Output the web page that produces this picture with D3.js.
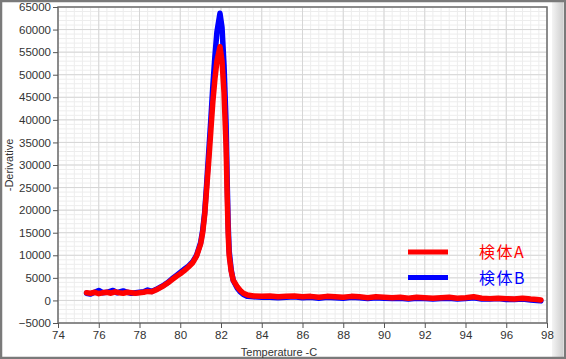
<!DOCTYPE html>
<html><head><meta charset="utf-8">
<script src="https://cdn.jsdelivr.net/npm/d3@7"></script>
<style>
html,body{margin:0;padding:0;background:#fff;}
svg{display:block;}
</style></head>
<body>
<svg id="chart" width="566" height="359"></svg>
<script>
// ---- data ----
const tempsA = [75.4,75.6,75.8,76.0,76.2,76.4,76.6,76.8,77.0,77.2,77.4,77.6,77.8,78.0,78.2,78.4,78.6,78.8,79.0,79.2,79.4,79.6,79.8,80.0,80.2,80.4,80.6,80.8,81.0,81.1,81.2,81.3,81.4,81.5,81.6,81.7,81.8,81.95,82.05,82.15,82.25,82.3,82.35,82.4,82.5,82.6,82.8,82.95,83.1,83.3,83.6,84.0,84.4,84.8,85.2,85.6,86.0,86.4,86.8,87.2,87.6,88.0,88.4,88.8,89.2,89.6,90.0,90.4,90.8,91.2,91.6,92.0,92.4,92.8,93.2,93.6,94.0,94.4,94.8,95.2,95.6,96.0,96.4,96.8,97.2,97.5,97.7];
const valuesA = [1700,1600,1800,1500,1700,1800,1600,1900,1700,1600,1800,1700,1600,1700,1800,2000,1900,2300,2800,3300,3900,4600,5300,5900,6600,7400,8300,9800,12500,15000,19000,25000,31000,37500,44000,49000,53000,56200,53000,46000,34000,24000,15000,10000,6500,4500,3000,2200,1600,1200,1000,900,1000,800,900,1000,800,900,700,900,800,700,900,800,600,800,700,600,700,500,700,600,500,600,700,500,600,800,500,400,500,400,300,500,300,200,100];
const tempsB = [75.4,75.6,75.8,76.0,76.2,76.4,76.7,76.9,77.2,77.4,77.6,77.8,78.0,78.2,78.4,78.6,78.8,79.0,79.2,79.4,79.6,79.8,80.0,80.2,80.4,80.6,80.8,81.0,81.1,81.2,81.3,81.4,81.5,81.6,81.7,81.8,81.95,82.05,82.15,82.25,82.3,82.35,82.4,82.5,82.6,82.8,82.95,83.1,83.3,83.6,84.0,84.4,84.8,85.2,85.6,86.0,86.4,86.8,87.2,87.6,88.0,88.4,88.8,89.2,89.6,90.0,90.4,90.8,91.2,91.6,92.0,92.4,92.8,93.2,93.6,94.0,94.4,94.8,95.2,95.6,96.0,96.4,96.8,97.2,97.5,97.7];
const valuesB = [1600,1400,1800,2200,1700,1800,2200,1700,2100,1800,1600,1700,1800,1900,2300,2000,2400,2900,3400,4000,4800,5500,6200,6900,7600,8500,10000,12800,15500,19500,26000,33000,40000,47500,54000,59500,63600,60500,52000,39000,27000,17000,11000,6800,4400,2700,1900,1300,900,800,700,700,600,700,800,600,700,500,700,600,500,700,600,400,600,500,400,500,300,500,400,300,400,500,300,400,600,300,300,400,200,200,300,100,0,-100];
const xTicks = [74,76,78,80,82,84,86,88,90,92,94,96,98];
const yTicks = [-5000,0,5000,10000,15000,20000,25000,30000,35000,40000,45000,50000,55000,60000,65000];
const seriesNames = ["検体A","検体B"];
const seriesColors = ["#ff0000","#0000ff"];

// ---- layout ----
const W = 566, H = 359;
const L = 58, T = 7, R = 547, B = 323;
const svg = d3.select("#chart");

// outer frame
svg.append("rect").attr("x",0).attr("y",0).attr("width",W).attr("height",H).attr("fill","#fff");
const grad = svg.append("defs").append("linearGradient").attr("id","rg").attr("x1","0").attr("x2","1");
grad.append("stop").attr("offset","0").attr("stop-color","#f4f4f4");
grad.append("stop").attr("offset","1").attr("stop-color","#cfcfcf");
svg.append("rect").attr("x",552).attr("y",2).attr("width",11).attr("height",H-4).attr("fill","url(#rg)");
svg.append("rect").attr("x",1).attr("y",1).attr("width",W-2).attr("height",H-2)
  .attr("fill","none").attr("stroke","#7a7a7a").attr("stroke-width",2.5);

const x = d3.scaleLinear().domain([74,98]).range([L,R]);
const y = d3.scaleLinear().domain([-5000,65000]).range([B,T]);

// grid
const g = svg.append("g");
const minorX = d3.range(74,98.001,0.4), minorY = d3.range(-5000,65001,1000);
g.selectAll(".mx").data(minorX).join("line").attr("x1",d=>x(d)).attr("x2",d=>x(d)).attr("y1",T).attr("y2",B).attr("stroke","#ededed").attr("stroke-width",1);
g.selectAll(".my").data(minorY).join("line").attr("y1",d=>y(d)).attr("y2",d=>y(d)).attr("x1",L).attr("x2",R).attr("stroke","#ededed").attr("stroke-width",1);
g.selectAll(".Mx").data(xTicks).join("line").attr("x1",d=>x(d)).attr("x2",d=>x(d)).attr("y1",T).attr("y2",B).attr("stroke","#d6d6d6").attr("stroke-width",1);
g.selectAll(".My").data(yTicks).join("line").attr("y1",d=>y(d)).attr("y2",d=>y(d)).attr("x1",L).attr("x2",R).attr("stroke","#d6d6d6").attr("stroke-width",1);

// plot border
svg.append("rect").attr("x",L).attr("y",T).attr("width",R-L).attr("height",B-T)
  .attr("fill","none").attr("stroke","#6e6e6e").attr("stroke-width",1.5);

// axes
const fontTick = "Liberation Sans, Arial, sans-serif";
const xa = svg.append("g").attr("transform",`translate(0,${B})`)
  .call(d3.axisBottom(x).tickValues(xTicks).tickSize(5).tickPadding(3).tickFormat(d3.format("d")));
const ya = svg.append("g").attr("transform",`translate(${L},0)`)
  .call(d3.axisLeft(y).tickValues(yTicks).tickSize(5).tickPadding(2).tickFormat(d3.format("d")));
[xa,ya].forEach(a=>{
  a.select(".domain").remove();
  a.selectAll(".tick line").attr("stroke","#555");
  a.selectAll(".tick text").attr("fill","#333").style("font-family",fontTick).style("font-size","11.5px");
});

svg.append("text").attr("x",279).attr("y",356).attr("text-anchor","middle")
  .style("font-family",fontTick).style("font-size","11px").attr("fill","#333").text("Temperature -C");
svg.append("text").attr("transform",`translate(13,165) rotate(-90)`).attr("text-anchor","middle")
  .style("font-family",fontTick).style("font-size","11px").attr("fill","#333").text("-Derivative");

// lines
const line = d3.line().x(d=>x(d[0])).y(d=>y(d[1]));
const dataB = tempsB.map((t,i)=>[t,valuesB[i]]);
const dataA = tempsA.map((t,i)=>[t,valuesA[i]]);
svg.append("clipPath").attr("id","cp").append("rect").attr("x",L).attr("y",T).attr("width",R-L).attr("height",B-T);
const lg = svg.append("g").attr("clip-path","url(#cp)");
lg.append("path").datum(dataB).attr("d",line).attr("fill","none").attr("stroke",seriesColors[1])
  .attr("stroke-width",5.5).attr("stroke-linejoin","round").attr("stroke-linecap","round");
lg.append("path").datum(dataA).attr("d",line).attr("fill","none").attr("stroke",seriesColors[0])
  .attr("stroke-width",5.5).attr("stroke-linejoin","round").attr("stroke-linecap","round");

// legend
const leg = svg.append("g");
seriesNames.forEach((n,i)=>{
  const yy = 252 + i*25.5;
  leg.append("line").attr("x1",408).attr("x2",448).attr("y1",yy).attr("y2",yy)
    .attr("stroke",seriesColors[i]).attr("stroke-width",5);
  leg.append("text").attr("x",479).attr("y",yy+6).attr("fill",seriesColors[i])
    .style("font-family","Noto Sans CJK JP, sans-serif").style("font-size","16px").style("letter-spacing","1.5px").text(n);
});
</script>
</body></html>
